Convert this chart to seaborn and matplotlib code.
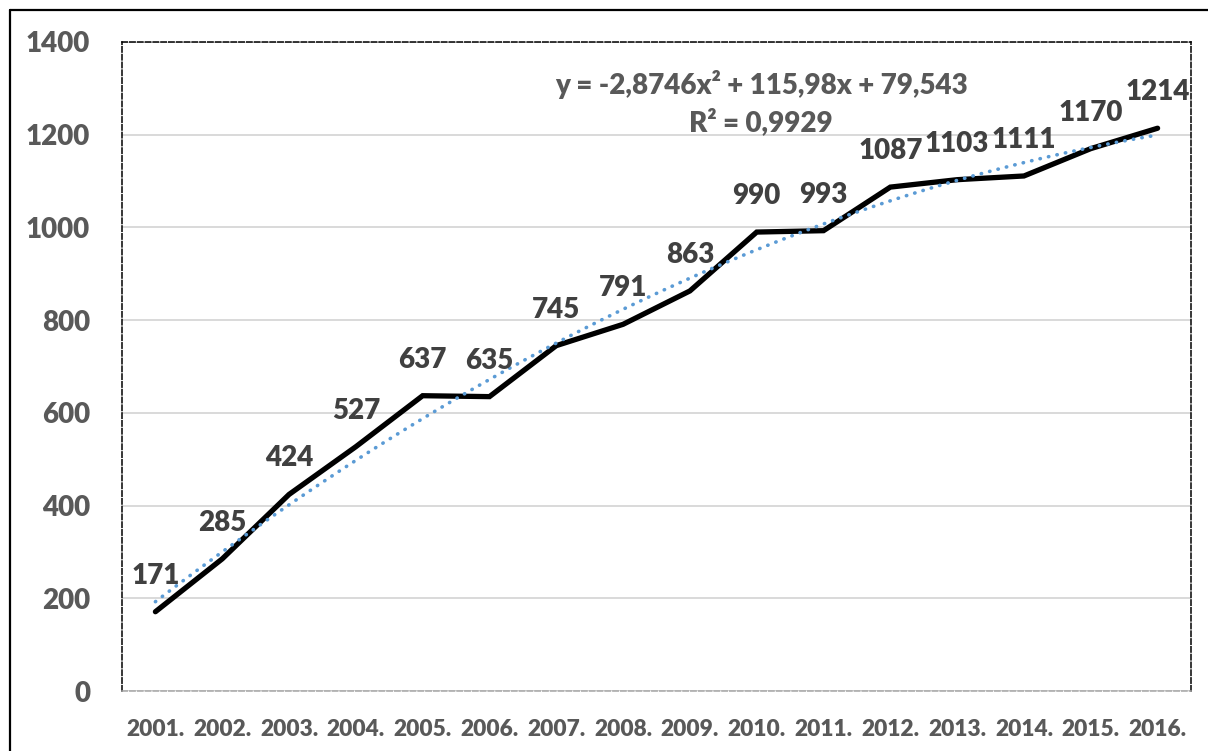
import matplotlib
matplotlib.use("Agg")
import matplotlib.pyplot as plt
from matplotlib.lines import Line2D
import seaborn as sns
import numpy as np

years = ["2001.", "2002.", "2003.", "2004.", "2005.", "2006.", "2007.", "2008.",
         "2009.", "2010.", "2011.", "2012.", "2013.", "2014.", "2015.", "2016."]
values = [171, 285, 424, 527, 637, 635, 745, 791, 863, 990, 993, 1087, 1103, 1111, 1170, 1214]
y_ticks = [0, 200, 400, 600, 800, 1000, 1200, 1400]
equation_text = "y = -2,8746x\u00b2 + 115,98x + 79,543"
r2_text = "R\u00b2 = 0,9929"

sns.set_theme(style="white")
plt.rcParams["font.family"] = ["Lato", "DejaVu Sans"]
WEIGHT = 800
plt.rcParams["font.weight"] = WEIGHT

W, H = 1208, 751
fig = plt.figure(figsize=(W / 100, H / 100), dpi=100)
fig.patch.set_facecolor("white")
ax = fig.add_axes([122 / W, 1 - 691 / H, (1191 - 122) / W, (691 - 42) / H])

pos = np.arange(len(values))

# Polynomial trendline (order 2) drawn by seaborn
sns.regplot(x=pos, y=np.array(values, dtype=float), order=2, ci=None, scatter=False, ax=ax,
            line_kws=dict(color="#5B9BD5", lw=2.6, linestyle=(0, (0.1, 2.3)),
                          dash_capstyle="round", zorder=4))

sns.lineplot(x=pos, y=values, ax=ax, color="black", lw=3.8, zorder=3,
             solid_capstyle="round", solid_joinstyle="miter")

ax.set_xlim(-0.5, len(values) - 0.5)
ax.set_ylim(0, 1400)
ax.set_yticks(y_ticks)
ax.set_yticklabels([str(t) for t in y_ticks])
ax.set_xticks(pos)
ax.set_xticklabels(years)
ax.set_xlabel("")
ax.set_ylabel("")

ax.grid(axis="y", color="#D9D9D9", lw=1.4, zorder=0)
ax.grid(axis="x", visible=False)
ax.set_axisbelow(True)

ax.tick_params(axis="y", length=0, pad=23, labelsize=20, labelcolor="#595959")
ax.tick_params(axis="x", length=0, pad=20, labelsize=16.3, labelcolor="#595959")
for lab in ax.get_xticklabels() + ax.get_yticklabels():
    lab.set_fontweight(WEIGHT)

for s in ["left", "right", "top"]:
    ax.spines[s].set_visible(True)
    ax.spines[s].set_color("black")
    ax.spines[s].set_linewidth(1.1)
    ax.spines[s].set_linestyle((0, (3.5, 1.6)))
ax.spines["bottom"].set_color("#A6A6A6")
ax.spines["bottom"].set_linewidth(1.1)
ax.spines["bottom"].set_linestyle((0, (3.5, 1.6)))

for i, v in enumerate(values):
    ax.annotate(str(v), (i, v), xytext=(0, 26), textcoords="offset points",
                ha="center", va="center", fontsize=20, fontweight=WEIGHT,
                color="#404040", zorder=5)

ax.text(0.598, 0.934, equation_text, transform=ax.transAxes, ha="center", va="center",
        fontsize=20, fontweight=WEIGHT, color="#595959")
ax.text(0.598, 0.877, r2_text, transform=ax.transAxes, ha="center", va="center",
        fontsize=20, fontweight=WEIGHT, color="#595959")

# Outer chart border (left and top edges visible)
bx, by = 10 / W, 1 - 10 / H
fig.add_artist(Line2D([bx, bx], [-0.1, by], transform=fig.transFigure, color="black", lw=1.6))
fig.add_artist(Line2D([bx, 1.1], [by, by], transform=fig.transFigure, color="black", lw=1.6))

fig.savefig("out.png", dpi=100, facecolor="white")
